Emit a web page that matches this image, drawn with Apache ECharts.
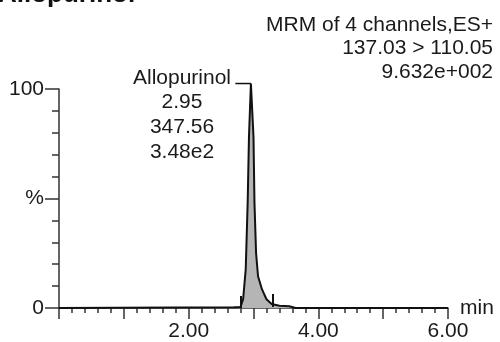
<!DOCTYPE html>
<html>
<head>
<meta charset="utf-8">
<script src="https://cdn.jsdelivr.net/npm/echarts@6/dist/echarts.min.js"></script>
<style>
html,body{margin:0;padding:0;background:#fff;}
#chart{width:500px;height:342px;}
</style>
</head>
<body>
<div id="chart"></div>
<script>
// Chromatogram trace (retention time in min, relative intensity in %)
const times     = [0, 2.70, 2.80, 2.84, 2.88, 2.91, 2.93, 2.96, 3.00, 3.015, 3.04, 3.07, 3.13, 3.20, 3.28, 3.40, 3.55, 3.65, 6.0];
const intensity = [0, 0.3,  0.5,  4,    17.7, 48,   78,   102.5, 78,  48,    25,   14.5, 8.6,  4,    1.8,  1.0,  0.8,  0,    0];
// Integration limit markers
const markerTimes = [2.81, 3.30];
const markerLow   = [0, 0.5];
const markerHigh  = [5.5, 6.4];
// Apex label connector
const connectorTimes  = [2.72, 2.96];
const connectorValues = [102.5, 102.5];
// Texts
const titleText = 'Allopurinol';
const headerLines = ['MRM of 4 channels,ES+', '137.03 > 110.05', '9.632e+002'];
const peakLabelLines = ['Allopurinol', '2.95', '347.56', '3.48e2'];
const xLabelValues = [2, 4, 6];
const yLabelMap = {0: '0', 50: '%', 100: '100'};

const FONT = '"Liberation Sans", Arial, sans-serif';
const AX = '#333';
const TXT = '#1a1a1a';

const chart = echarts.init(document.getElementById('chart'));
const data = times.map((t, i) => [t, intensity[i]]);
const connector = connectorTimes.map((t, i) => [t, connectorValues[i]]);
const markLines = markerTimes.map((t, i) => [{coord: [t, markerLow[i]]}, {coord: [t, markerHigh[i]]}]);

chart.setOption({
  animation: false,
  textStyle: {fontFamily: FONT},
  grid: {left: 59, right: 52, top: 89, bottom: 33, containLabel: false},
  xAxis: [
    {
      type: 'value', min: 0, max: 6, interval: 1, position: 'bottom',
      axisLine: {show: true, lineStyle: {color: AX, width: 1.5}},
      axisTick: {show: true, length: 11, lineStyle: {color: AX, width: 1.5}},
      axisLabel: {
        color: TXT, fontSize: 21, fontFamily: FONT, margin: 13,
        formatter: v => xLabelValues.indexOf(Math.round(v)) >= 0 ? v.toFixed(2) : ''
      },
      splitLine: {show: false},
      name: 'min', nameLocation: 'end', nameGap: 12,
      nameTextStyle: {color: TXT, fontSize: 21, fontFamily: FONT}
    },
    {
      type: 'value', min: 0, max: 6, interval: 0.2, position: 'bottom',
      axisLine: {show: false},
      axisTick: {show: true, length: 5, lineStyle: {color: AX, width: 1.5}},
      axisLabel: {show: false},
      splitLine: {show: false}
    }
  ],
  yAxis: [
    {
      type: 'value', min: 0, max: 100, interval: 50, position: 'left',
      axisLine: {show: true, lineStyle: {color: AX, width: 1.5}},
      axisTick: {show: true, length: 14, lineStyle: {color: AX, width: 1.5}},
      axisLabel: {
        color: TXT, fontSize: 21, fontFamily: FONT, margin: 15,
        formatter: v => yLabelMap[Math.round(v)] !== undefined ? yLabelMap[Math.round(v)] : ''
      },
      splitLine: {show: false}
    },
    {
      type: 'value', min: 0, max: 100, interval: 10, position: 'left',
      axisLine: {show: false},
      axisTick: {show: true, length: 7, lineStyle: {color: AX, width: 1.5}},
      axisLabel: {show: false},
      splitLine: {show: false}
    }
  ],
  series: [
    {
      type: 'line', xAxisIndex: 0, yAxisIndex: 0, data: data,
      showSymbol: false, clip: false,
      lineStyle: {color: '#111', width: 2},
      areaStyle: {color: '#b5b5b5', opacity: 1},
      markLine: {
        silent: true, symbol: 'none', animation: false,
        label: {show: false},
        lineStyle: {color: '#111', width: 2, type: 'solid'},
        data: markLines
      }
    },
    {
      type: 'line', xAxisIndex: 0, yAxisIndex: 0, data: connector,
      showSymbol: false, clip: false, silent: true,
      lineStyle: {color: '#111', width: 1.5}
    }
  ],
  graphic: [
    {
      type: 'text', x: -2, y: -5,
      style: {text: titleText, font: 'bold 26px ' + FONT, fill: '#111',
              align: 'left', verticalAlign: 'middle'}
    },
    {
      type: 'text', x: 493, y: 13.25,
      style: {text: headerLines.join('\n'), font: '21px ' + FONT, fill: TXT,
              align: 'right', verticalAlign: 'top', lineHeight: 23.5}
    },
    {
      type: 'text', x: 182, y: 65.5,
      style: {text: peakLabelLines.join('\n'), font: '21px ' + FONT, fill: TXT,
              align: 'center', verticalAlign: 'top', lineHeight: 24.7}
    }
  ]
});
</script>
</body>
</html>
